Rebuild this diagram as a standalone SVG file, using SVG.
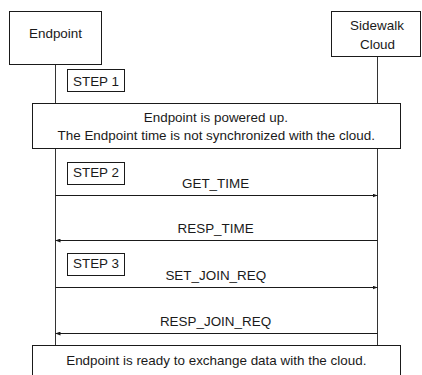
<svg xmlns="http://www.w3.org/2000/svg" width="422" height="375" viewBox="0 0 422 375">
  <style>
    .box { fill: #ffffff; stroke: #1a1a1a; stroke-width: 1; }
    .life { stroke: #333333; stroke-width: 1; fill: none; }
    .msg { stroke: #1a1a1a; stroke-width: 1; fill: none; }
    .t { font-family: "Liberation Sans", Arial, Helvetica, sans-serif; font-size: 12px; fill: #1a1a1a; text-anchor: middle; }
  </style>
  <defs>
    <marker id="ah" viewBox="0 0 10 8" markerWidth="5" markerHeight="4" refX="10" refY="4" orient="auto" markerUnits="userSpaceOnUse">
      <path d="M0,0 L10,4 L0,8 z" fill="#1a1a1a"/>
    </marker>
  </defs>
  <rect width="422" height="375" fill="#ffffff"/>

  <g id="connectors">
    <line class="life" x1="55.5" y1="64.5" x2="55.5" y2="345.5"/>
    <line class="life" x1="377.5" y1="56.5" x2="377.5" y2="345.5"/>
    <line class="msg" x1="55.5" y1="195.5" x2="377.5" y2="195.5" marker-end="url(#ah)"/>
    <text class="t" transform="translate(215.6,188.3) scale(1.12,1)">GET_TIME</text>
    <line class="msg" x1="377.5" y1="240.5" x2="55.5" y2="240.5" marker-end="url(#ah)"/>
    <text class="t" transform="translate(215.6,233) scale(1.12,1)">RESP_TIME</text>
    <line class="msg" x1="55.5" y1="287.5" x2="377.5" y2="287.5" marker-end="url(#ah)"/>
    <text class="t" transform="translate(215.8,279.8) scale(1.12,1)">SET_JOIN_REQ</text>
    <line class="msg" x1="377.5" y1="333.5" x2="55.5" y2="333.5" marker-end="url(#ah)"/>
    <text class="t" transform="translate(215.5,325.6) scale(1.12,1)">RESP_JOIN_REQ</text>
  </g>

  <g id="endpoint">
    <rect class="box" x="9.5" y="11.5" width="92" height="53"/>
    <text class="t" transform="translate(55.5,37.7) scale(1.12,1)">Endpoint</text>
  </g>

  <g id="cloud">
    <rect class="box" x="331.5" y="11.5" width="89" height="45"/>
    <text class="t" transform="translate(377,29.6) scale(1.12,1)">Sidewalk</text>
    <text class="t" transform="translate(377.5,48.6) scale(1.12,1)">Cloud</text>
  </g>

  <g id="step1">
    <rect class="box" x="67.5" y="69.5" width="57" height="22"/>
    <text class="t" transform="translate(96,86) scale(1.12,1)">STEP 1</text>
  </g>

  <g id="note-powered">
    <rect class="box" x="32.5" y="103.5" width="368" height="45"/>
    <text class="t" transform="translate(215.8,122) scale(1.12,1)">Endpoint is powered up.</text>
    <text class="t" transform="translate(216.2,140) scale(1.12,1)">The Endpoint time is not synchronized with the cloud.</text>
  </g>

  <g id="step2">
    <rect class="box" x="67.5" y="162.5" width="57" height="22"/>
    <text class="t" transform="translate(96,177.3) scale(1.12,1)">STEP 2</text>
  </g>

  <g id="step3">
    <rect class="box" x="67.5" y="253.5" width="57" height="22"/>
    <text class="t" transform="translate(96,268.3) scale(1.12,1)">STEP 3</text>
  </g>

  <g id="note-ready">
    <rect class="box" x="32.5" y="345.5" width="368" height="40"/>
    <text class="t" transform="translate(216.3,365.3) scale(1.12,1)">Endpoint is ready to exchange data with the cloud.</text>
  </g>
</svg>
